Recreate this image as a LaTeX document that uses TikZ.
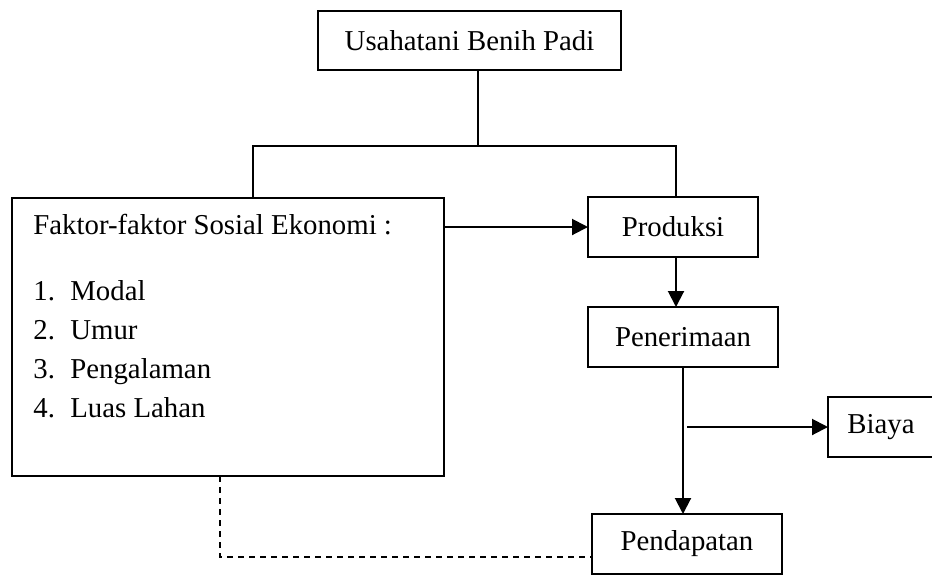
\documentclass[tikz,border=0pt]{standalone}
\usepackage{fontspec}
\setmainfont{Liberation Serif}
\usetikzlibrary{arrows.meta}

\begin{document}
\begin{tikzpicture}[
		x=0.5pt, y=-0.5pt,
		every node/.style = {
			font=\fontsize{14.4pt}{17pt}\selectfont
		},
		kotak/.style = {
			draw, rectangle, line width=1pt,
			inner sep=0pt, outer sep=0pt
		},
		teks/.style = {
			inner sep=0pt, anchor=base west
		},
		garis/.style = {line width=1pt},
		panah/.style = {line width=1pt, -{Triangle[length=8pt,width=8pt]}},
		putus/.style = {line width=1pt, dash pattern=on 3pt off 2.5pt}
		]
		\useasboundingbox (0,0) rectangle (932,575);
		%\draw (0,0) grid (932,575);
		\node[kotak, minimum width=151.5pt, minimum height=29.5pt] (usaha) at (469.5,40.5) {Usahatani Benih Padi};
		\node[kotak, minimum width=216pt, minimum height=139pt] (faktor) at (228,337) {};
		\node[kotak, minimum width=85pt, minimum height=30pt] (produksi) at (673,227) {Produksi};
		\node[kotak, minimum width=95pt, minimum height=30pt] (penerimaan) at (683,337) {Penerimaan};
		\node[kotak, minimum width=53pt, minimum height=30pt] (biaya) at (881,427) {Biaya};
		\node[kotak, minimum width=95pt, minimum height=30pt] (pendapatan) at (687,544) {Pendapatan};
		
		% isi kotak faktor
		\node[teks] (judul) at (33,234) {Faktor-faktor Sosial Ekonomi :};
		\node[teks] (modal) at (33,300) {\makebox[18.5pt][l]{1.}Modal};
		\node[teks] (umur) at (33,339) {\makebox[18.5pt][l]{2.}Umur};
		\node[teks] (pengalaman) at (33,378) {\makebox[18.5pt][l]{3.}Pengalaman};
		\node[teks] (lahan) at (33,417) {\makebox[18.5pt][l]{4.}Luas Lahan};
		
		\coordinate (cabang) at (478,146);
		\coordinate (kiri) at (253,146);
		\coordinate (kanan) at (676,146);
		\coordinate (sudut) at (220,557);
		
		\draw[garis] (usaha.south -| cabang) -- (cabang);
		\draw[garis] (faktor.north -| kiri) -- (kiri) -- (kanan) -- (produksi.north -| kanan);
		\draw[panah] (faktor.east |- produksi.west) -- (produksi.west);
		\draw[panah] (produksi.south -| kanan) -- (penerimaan.north -| kanan);
		\draw[panah] (penerimaan.south) -- (pendapatan.north -| penerimaan.south);
		\draw[panah] ([xshift=2pt]biaya.west -| penerimaan.south) -- (biaya.west);
		\draw[putus] (faktor.south -| sudut) -- (sudut) -- (sudut -| pendapatan.west);
	\end{tikzpicture}
\end{document}
